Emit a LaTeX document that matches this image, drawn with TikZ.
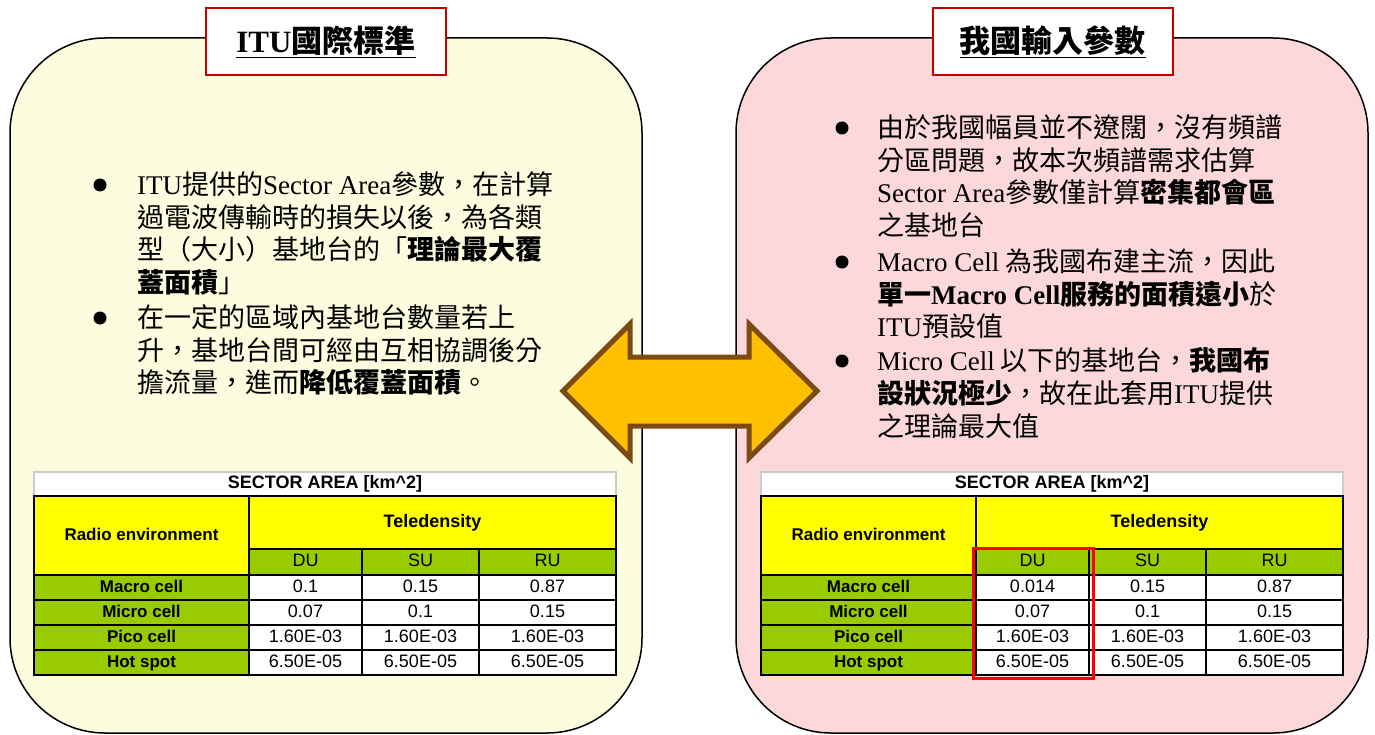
\documentclass[tikz,border=0pt]{standalone}
\usepackage{fontspec}
\setmainfont{Liberation Serif}
\setsansfont{Liberation Sans}
\newfontfamily\cjkfont{Noto Sans CJK TC}
\newcommand{\lat}[1]{{\rmfamily #1}}
\usetikzlibrary{positioning}

\definecolor{paneyellow}{RGB}{252,252,222}
\definecolor{panepink}{RGB}{252,216,218}
\definecolor{titlered}{RGB}{192,0,0}
\definecolor{arrowgold}{RGB}{255,192,0}
\definecolor{arrowbrown}{RGB}{124,74,18}
\definecolor{celllime}{RGB}{153,204,0}
\definecolor{cellyellow}{RGB}{255,255,0}

% Tabelle: #1 = x-Versatz, #2 = Name, #3 = Wert Macro/DU
\newcommand{\sectortable}[3]{%
    \begin{scope}[xshift=#1]
        \node[cell, headcell, draw=gray!40, fill=white, minimum width=582pt, minimum height=24pt,
              font=\sffamily\fontsize{18}{20}\selectfont\bfseries] (#2-title) at (325,484)
              {SECTOR AREA [km\textasciicircum 2]};
        \node[cell, headcell, fill=cellyellow, minimum width=215pt, minimum height=79pt] (#2-env) at (141.5,535.5)
              {Radio environment};
        \node[cell, headcell, fill=cellyellow, minimum width=367pt, minimum height=53pt,
              font=\sffamily\fontsize{18}{20}\selectfont\bfseries] (#2-tele) at (432.5,522.5)
              {Teledensity};
        \foreach \cx/\cw/\cn/\ct in {305.5/113/du/DU, 420.5/117/su/SU, 547.5/137/ru/RU}
            \node[cell, fill=celllime, minimum width=\cw pt, minimum height=26pt] (#2-\cn) at (\cx,562) {\ct};
        \foreach \rname/\du/\su/\ru [count=\i] in {Macro cell/#3/0.15/0.87,
                Micro cell/0.07/0.1/0.15, Pico cell/1.60E-03/1.60E-03/1.60E-03,
                Hot spot/6.50E-05/6.50E-05/6.50E-05}
        {
            \node[cell, headcell, fill=celllime, minimum width=215pt, minimum height=25pt] (#2-row-\i) at (141.5,{562.5+25*\i}) {\rname};
            \node[cell, fill=white, minimum width=113pt, minimum height=25pt] (#2-du-\i) at (305.5,{562.5+25*\i}) {\du};
            \node[cell, fill=white, minimum width=117pt, minimum height=25pt] (#2-su-\i) at (420.5,{562.5+25*\i}) {\su};
            \node[cell, fill=white, minimum width=137pt, minimum height=25pt] (#2-ru-\i) at (547.5,{562.5+25*\i}) {\ru};
        }
    \end{scope}}

\begin{document}
\begin{tikzpicture}[x=1pt, y=-1pt,
    panel/.style={draw=black, line width=1.5pt, rounded corners=95pt, inner sep=0pt, outer sep=0pt,
                  minimum width=632pt, minimum height=695pt},
    titlebox/.style={draw=titlered, line width=2pt, fill=white, inner sep=0pt,
                     minimum width=240pt, minimum height=67pt,
                     font=\cjkfont\fontsize{31}{36}\selectfont\bfseries},
    para/.style={anchor=north west, inner sep=0pt, align=left,
                 font=\cjkfont\fontsize{27}{32.7}\selectfont},
    dot/.style={circle, fill=black, inner sep=0pt, minimum size=13pt},
    cell/.style={draw=black, line width=1.2pt, inner sep=0pt, outer sep=0pt,
                 text height=12.5pt, text depth=3.5pt,
                 font=\sffamily\fontsize{18}{20}\selectfont},
    headcell/.style={font=\sffamily\fontsize{17}{19}\selectfont\bfseries},
    comparearrow/.style={fill=arrowgold, draw=arrowbrown, line width=5pt, line join=miter},
    highlight/.style={draw=red, line width=3pt}
    ]
    \useasboundingbox (0,0) rectangle (1375,735);

    % Flaechen
    \node[panel, fill=paneyellow] (itu) at (326,385.5) {};
    \node[panel, fill=panepink] (tw) at (1052,385.5) {};

    % Titel
    \node[titlebox] (itu-title) at (326,41.5) {\underline{\lat{ITU}國際標準}};
    \node[titlebox] (tw-title) at (1052.5,41.5) {\underline{我國輸入參數}};

    % Text links
    \node[dot] (itu-dot1) at (100,185) {};
    \node[para] (itu-p1) at (137,171.5) {%
        \lat{ITU}提供的\lat{Sector Area}參數，在計算\\
        過電波傳輸時的損失以後，為各類\\
        型（大小）基地台的「\textbf{理論最大覆}\\
        \textbf{蓋面積}」};
    \node[dot] (itu-dot2) at (100,318) {};
    \node[para] (itu-p2) at (137,304.5) {%
        在一定的區域內基地台數量若上\\
        升，基地台間可經由互相協調後分\\
        擔流量，進而\textbf{降低覆蓋面積}。};

    % Text rechts
    \node[dot] (tw-dot1) at (842,128) {};
    \node[para] (tw-p1) at (877,114.5) {%
        由於我國幅員並不遼闊，沒有頻譜\\
        分區問題，故本次頻譜需求估算\\
        \lat{Sector Area}參數僅計算\textbf{密集都會區}\\
        之基地台};
    \node[dot] (tw-dot2) at (842,262) {};
    \node[para] (tw-p2) at (877,248.5) {%
        \lat{Macro Cell} 為我國布建主流，因此\\
        \textbf{單一\lat{Macro Cell}服務的面積遠小}於\\
        \lat{ITU}預設值};
    \node[dot] (tw-dot3) at (842,361) {};
    \node[para] (tw-p3) at (877,347.5) {%
        \lat{Micro Cell} 以下的基地台，\textbf{我國布}\\
        \textbf{設狀況極少}，故在此套用\lat{ITU}提供\\
        之理論最大值};

    % Tabellen
    \sectortable{0}{itu}{0.1}
    \sectortable{727}{tw}{0.014}
    \draw[highlight] ([shift={(-3,-1)}]tw-du.north west) rectangle ([shift={(4,3)}]tw-du-4.south east);

    % Pfeil
    \draw[comparearrow] (563,391) -- (630,324) -- (630,357) -- (749,357) -- (749,324)
        -- (817,391) -- (749,458) -- (749,426) -- (630,426) -- (630,458) -- cycle;
\end{tikzpicture}
\end{document}
